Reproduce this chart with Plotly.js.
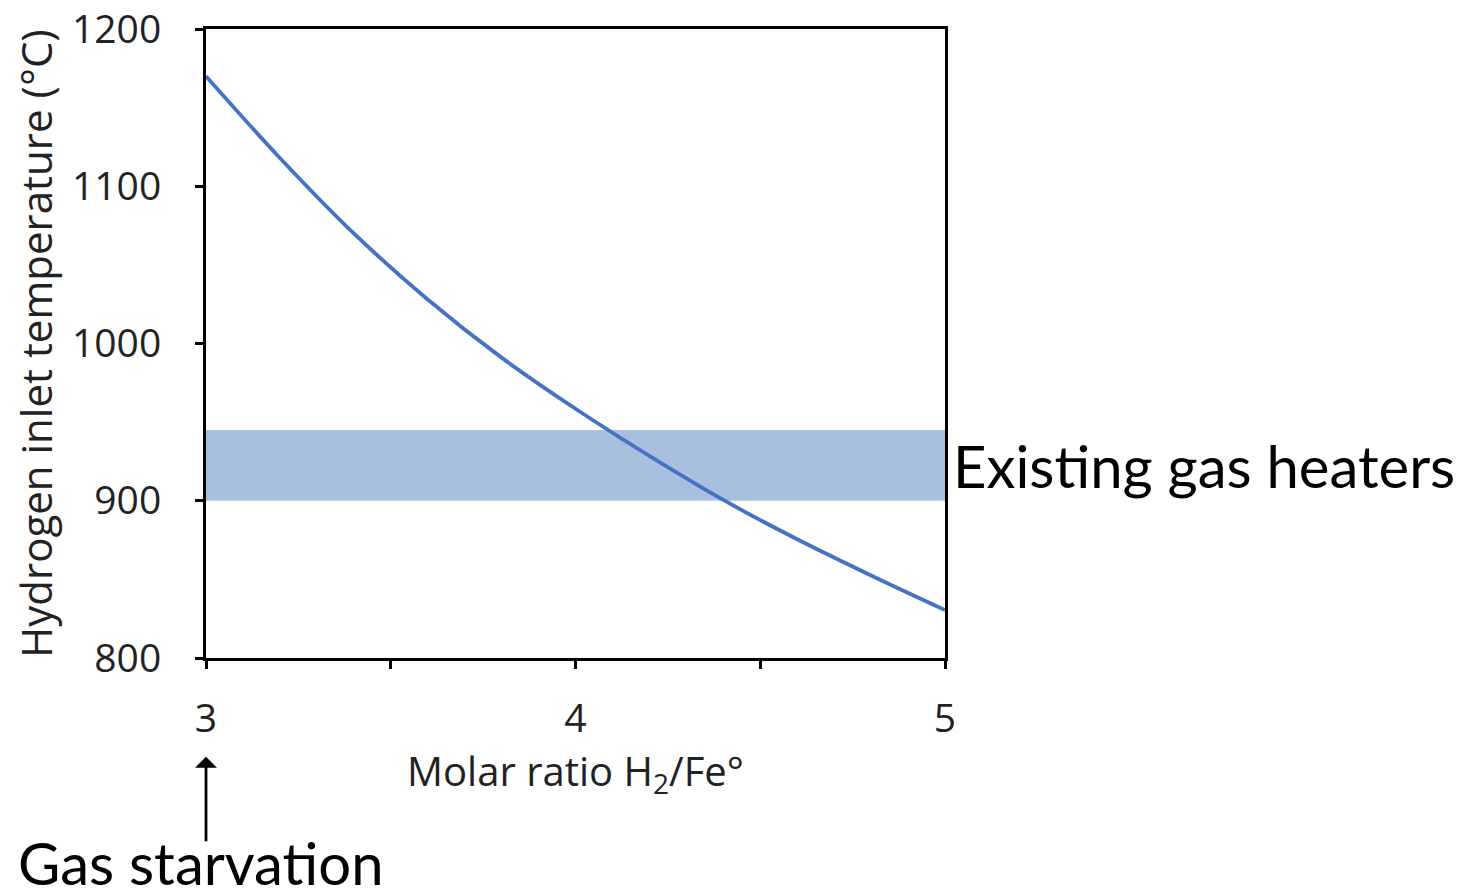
<!DOCTYPE html>
<html>
<head>
<meta charset="utf-8">
<script src="https://cdn.plot.ly/plotly-3.0.1.min.js"></script>
<style>html,body{margin:0;padding:0;background:#fff;}#chart{width:1478px;height:896px;}</style>
</head>
<body>
<div id="chart"></div>
<script>
// Data
const ratio = [3.0, 3.2, 3.4, 3.6, 3.8, 4.0, 4.2, 4.4, 4.6, 4.8, 5.0];
const temperature = [1170, 1118, 1070, 1028, 991, 958.5, 928.5, 900.5, 875.5, 852.5, 830.5];
const bandLow = 900;
const bandHigh = 945;
const xTickVals = [3, 4, 5];
const xMinorStep = 0.5;
const yTickVals = [800, 900, 1000, 1100, 1200];
const bandLabel = 'Existing gas heaters';
const arrowLabel = 'Gas starvation';

const tickFont = {family: 'Open Sans, sans-serif', size: 39, color: '#222'};
const titleFont = {family: 'Open Sans, sans-serif', size: 40, color: '#222'};
const bigFont = {family: 'Lato, Carlito, sans-serif', size: 58, color: '#000'};

const trace = {
  x: ratio, y: temperature, type: 'scatter', mode: 'lines',
  line: {color: '#4472C4', width: 3.8, shape: 'spline', smoothing: 1},
  hoverinfo: 'skip'
};

const layout = {
  width: 1478, height: 896,
  margin: {l: 206, r: 533, t: 29, b: 238},
  paper_bgcolor: '#fff', plot_bgcolor: '#fff',
  showlegend: false,
  xaxis: {
    range: [3, 5], tickmode: 'array', tickvals: xTickVals,
    ticks: 'outside', ticklen: 8, tickwidth: 3, tickcolor: '#000',
    minor: {dtick: xMinorStep, tick0: 3, ticks: 'outside', ticklen: 8, tickwidth: 3, tickcolor: '#000', showgrid: false},
    ticklabelstandoff: 16,
    showline: true, linecolor: '#000', linewidth: 3, mirror: true,
    showgrid: false, zeroline: false,
    tickfont: tickFont,
    title: {text: 'Molar ratio H<sub>2</sub>/Fe°', font: titleFont, standoff: 14}
  },
  yaxis: {
    range: [800, 1200], tickvals: yTickVals,
    ticks: 'outside', ticklen: 8, tickwidth: 3, tickcolor: '#000',
    ticklabelstandoff: 26,
    showline: true, linecolor: '#000', linewidth: 3, mirror: true,
    showgrid: false, zeroline: false,
    tickfont: tickFont,
    title: {text: 'Hydrogen inlet temperature (°C)', font: {family: 'Open Sans, sans-serif', size: 42, color: '#222'}, standoff: 7}
  },
  shapes: [{
    type: 'rect', xref: 'paper', yref: 'y', x0: 0, x1: 1, y0: bandLow, y1: bandHigh,
    fillcolor: 'rgb(168,192,222)', line: {width: 0}, layer: 'below'
  }],
  annotations: [
    {xref: 'paper', yref: 'y', x: 1, y: (bandLow + bandHigh) / 2, xanchor: 'left', yanchor: 'middle',
     xshift: 6, text: bandLabel, showarrow: false, font: bigFont},
    {xref: 'x', yref: 'paper', x: 3, y: -0.157, text: '', showarrow: true,
     ax: 0, ay: 86, arrowhead: 1, arrowsize: 1.3, arrowwidth: 2.8, arrowcolor: '#000'},
    {xref: 'x', yref: 'paper', x: 3, y: -0.318, yshift: -4, xanchor: 'center', yanchor: 'middle', xshift: -5,
     text: arrowLabel, showarrow: false, font: bigFont}
  ]
};

Plotly.newPlot('chart', [trace], layout, {displayModeBar: false, staticPlot: true});
</script>
</body>
</html>
